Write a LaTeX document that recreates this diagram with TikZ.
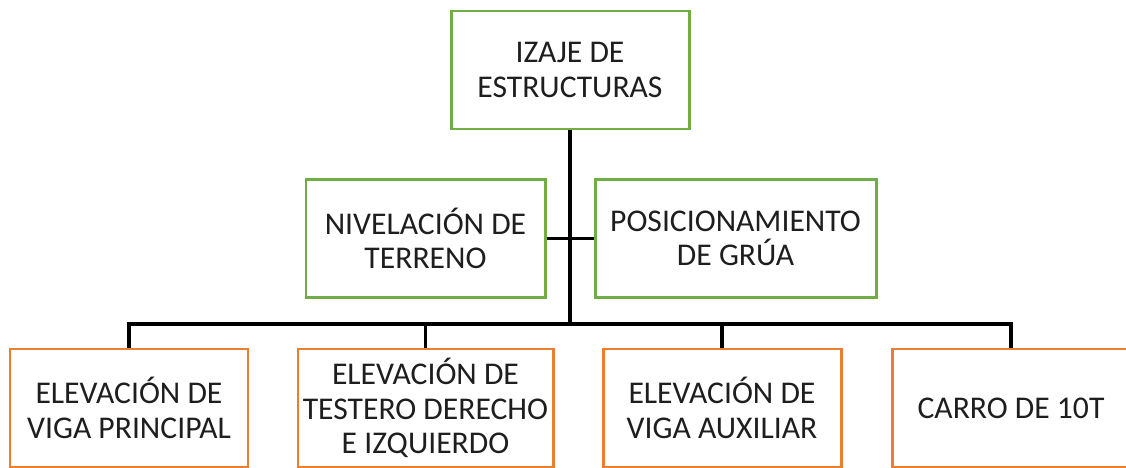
\documentclass[tikz,border=0pt]{standalone}
\usepackage{fontspec}
\setmainfont{Carlito}
\usepackage{xcolor}
\usepackage{tikz}
\definecolor{boxgreen}{RGB}{112,173,71}
\definecolor{boxorange}{RGB}{237,125,49}
\definecolor{textgray}{RGB}{30,30,30}
\tikzset{
    greenbox/.style={draw=boxgreen, line width=1.7pt, minimum height=2.36cm, align=center, inner sep=2pt, text=textgray, font=\fontsize{18}{19.5}\selectfont},
    orangebox/.style={draw=boxorange, line width=1.7pt, minimum height=2.36cm, align=center, inner sep=2pt, text=textgray, font=\fontsize{18}{19.5}\selectfont},
    link/.style={line width=1.8pt}
}
\begin{document}
\begin{tikzpicture}
    \useasboundingbox (0,0) rectangle (22.52,-9.36);
    % upper level
    \node[greenbox, minimum width=4.76cm] (izaje) at (11.4,-1.4) {IZAJE DE\\ESTRUCTURAS};
    \node[greenbox, minimum width=4.78cm] (nivelacion) at (8.51,-4.77) {NIVELACIÓN DE\\TERRENO};
    \node[greenbox, minimum width=5.62cm] (grua) at (14.71,-4.77) {POSICIONAMIENTO\\DE GRÚA};
    % lower level
    \node[orangebox, minimum width=4.76cm] (viga) at (2.58,-8.16) {ELEVACIÓN DE\\VIGA PRINCIPAL};
    \node[orangebox, minimum width=5.1cm] (testero) at (8.51,-8.16) {ELEVACIÓN DE\\TESTERO DERECHO\\E IZQUIERDO};
    \node[orangebox, minimum width=4.76cm] (auxiliar) at (14.44,-8.16) {ELEVACIÓN DE\\VIGA AUXILIAR};
    \node[orangebox, minimum width=4.76cm] (carro) at (20.22,-8.16) {CARRO DE 10T};
    \coordinate (bus) at (11.4,-6.48);
    % connectors
    \draw[link] (izaje.south) -- (bus);
    \draw[link] (nivelacion.east) -- (grua.west);
    \draw[link] (viga.north) |- (bus);
    \draw[link] (carro.north) |- (bus);
    \draw[link] (testero.north) -- (testero.north |- bus);
    \draw[link] (auxiliar.north) -- (auxiliar.north |- bus);
\end{tikzpicture}
\end{document}
